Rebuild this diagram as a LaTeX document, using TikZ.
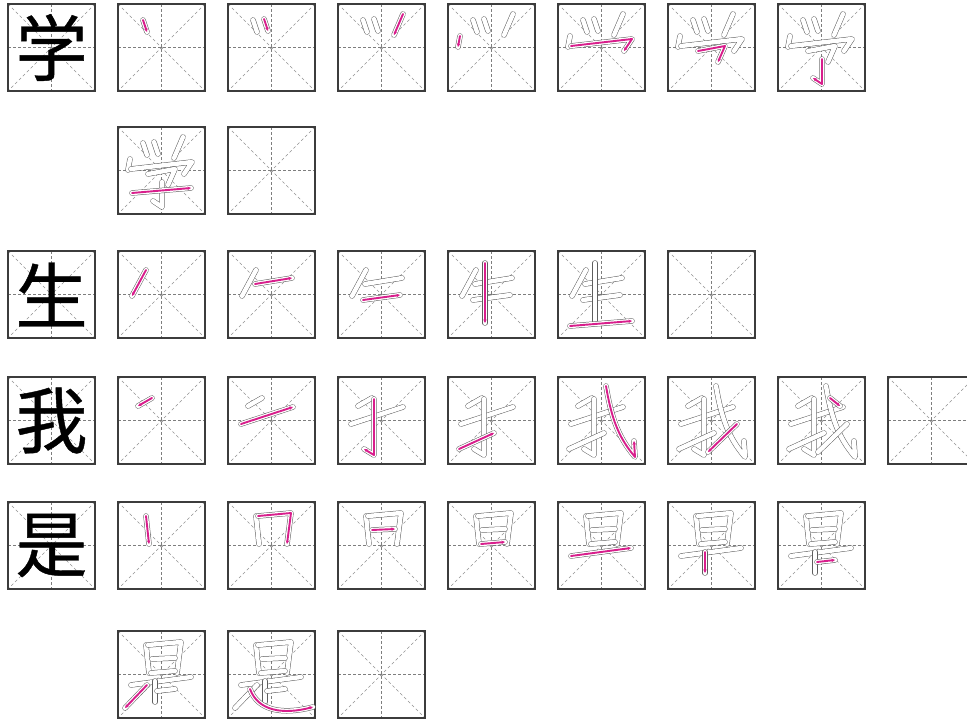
\documentclass[tikz,border=0pt]{standalone}
\usepackage{fontspec}
\newfontfamily\cjk[FakeBold=0.6]{Noto Sans CJK SC}
\usetikzlibrary{arrows.meta}
\definecolor{frame}{HTML}{3C3C3C}
\definecolor{guide}{HTML}{7E7E7E}
\definecolor{trace}{HTML}{5E5E5E}
\definecolor{pen}{HTML}{D81E8C}

% one stroke of a character, box-local pixels, y down
\newcommand\defstroke[3]{\expandafter\def\csname #1#2\endcsname{#3}}

% 学
\defstroke{xue}{1}{(25,16)--(29,28)}
\defstroke{xue}{2}{(36,15)--(40,27)}
\defstroke{xue}{3}{(65,10)--(56,31)}
\defstroke{xue}{4}{(12,32)--(10,43)}
\defstroke{xue}{5}{(13,42)--(74,35)--(66,47)}
\defstroke{xue}{6}{(30,47)--(57,42)--(50,58)}
\defstroke{xue}{7}{(44,55)--(44,80)--(35,74)}
\defstroke{xue}{8}{(14,66)--(73,61)}
% 生
\defstroke{sheng}{1}{(28,19)--(14,45)}
\defstroke{sheng}{2}{(27,33)--(64,27)}
\defstroke{sheng}{3}{(25,49)--(62,44)}
\defstroke{sheng}{4}{(37,12)--(37,72)}
\defstroke{sheng}{5}{(12,75)--(74,70)}
% 我
\defstroke{wo}{1}{(34,21)--(20,29)}
\defstroke{wo}{2}{(13,47)--(65,30)}
\defstroke{wo}{3}{(36,22)--(36,78)--(26,72)}
\defstroke{wo}{4}{(11,72)--(46,56)}
\defstroke{wo}{5}{(48,9) .. controls (54,45) and (62,62) .. (77,80) -- (76,64)}
\defstroke{wo}{6}{(69,47)--(40,75)}
\defstroke{wo}{7}{(52,21)--(62,29)}
% 是
\defstroke{shi}{1}{(28,14)--(31,42)}
\defstroke{shi}{2}{(30,14)--(63,11)--(59,42)}
\defstroke{shi}{3}{(34,28)--(57,27)}
\defstroke{shi}{4}{(33,42)--(57,40)}
\defstroke{shi}{5}{(13,54)--(73,46)}
\defstroke{shi}{6}{(37,50)--(37,71)}
\defstroke{shi}{7}{(39,60)--(57,58)}
\defstroke{shi}{8}{(29,54)--(7,77)}
\defstroke{shi}{9}{(22,58) .. controls (30,80) and (55,84) .. (85,76)}

% empty practice box, top-left corner at #1,#2
\newcommand\gridcell[2]{%
  \begin{scope}[shift={(#1,#2)}]
    \draw[diag] (0,0) -- (87,87) (87,0) -- (0,87);
    \draw[mid] (43.5,0) -- (43.5,87) (0,43.5) -- (87,43.5);
    \fill[guide] (43.5,43.5) circle (1.2pt);
    \draw[edge] (0,0) rectangle (87,87);
  \end{scope}}

% box with strokes 1..#4 of character #3
\newcommand\stepcell[4]{%
  \gridcell{#1}{#2}
  \begin{scope}[shift={(#1,#2)}]
    \foreach \s in {1,...,#4}{\edef\strk{\csname #3\s\endcsname}\draw[outl] \strk;}
    \edef\strk{\csname #3#4\endcsname}\draw[cur] \strk;
  \end{scope}}

\begin{document}
\begin{tikzpicture}[x=1pt, y=-1pt, >={Stealth[length=3.6pt, width=3.4pt]},
    edge/.style={draw=frame, line width=1.8pt},
    mid/.style={draw=guide, line width=0.6pt, dash pattern=on 3pt off 2pt},
    diag/.style={draw=guide!85, line width=0.5pt, dash pattern=on 3pt off 2.5pt},
    outl/.style={draw=trace, line width=0.5pt, double=white, double distance=4.4pt,
      line cap=round, line join=round},
    cur/.style={draw=pen, line width=1.9pt, line cap=round, line join=round, ->},
    bigch/.style={font=\cjk\fontsize{72}{72}\selectfont, inner sep=0pt, text=black}]

  \useasboundingbox (0,0) rectangle (967,720);

  % 学
  \gridcell{8}{4}
  \node[bigch] (xue) at (51.5,47.5) {学};
  \foreach \k in {1,...,7} {\stepcell{8+110*\k}{4}{xue}{\k}}
  \stepcell{118}{127}{xue}{8}
  \gridcell{228}{127}

  % 生
  \gridcell{8}{251}
  \node[bigch] (sheng) at (51.5,294.5) {生};
  \foreach \k in {1,...,5} {\stepcell{8+110*\k}{251}{sheng}{\k}}
  \gridcell{668}{251}

  % 我
  \gridcell{8}{377}
  \node[bigch] (wo) at (51.5,420.5) {我};
  \foreach \k in {1,...,7} {\stepcell{8+110*\k}{377}{wo}{\k}}
  \gridcell{888}{377}

  % 是
  \gridcell{8}{502}
  \node[bigch] (shi) at (51.5,545.5) {是};
  \foreach \k in {1,...,7} {\stepcell{8+110*\k}{502}{shi}{\k}}
  \stepcell{118}{631}{shi}{8}
  \stepcell{228}{631}{shi}{9}
  \gridcell{338}{631}
\end{tikzpicture}
\end{document}
